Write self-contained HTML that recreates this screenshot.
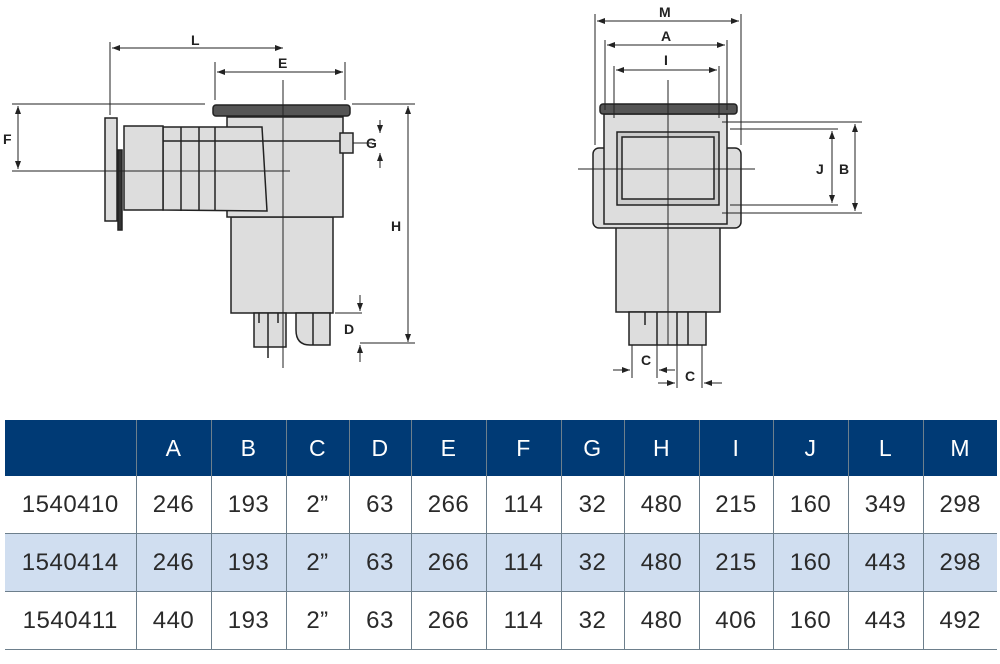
<!DOCTYPE html>
<html><head><meta charset="utf-8"><style>
body{margin:0;width:1000px;height:664px;background:#fff;overflow:hidden;position:relative;font-family:"Liberation Sans",sans-serif}
svg{position:absolute;left:0;top:0}
table{position:absolute;left:5px;top:420px;border-collapse:collapse;width:992px;table-layout:fixed}
td,th{border-left:1.5px solid #6d7f8c;text-align:center;font-size:24px;color:#2a2a2a;padding:0;letter-spacing:0.5px}
th{background:#003a75;color:#fff;height:56px;font-weight:normal;font-size:23px}
td{height:57px;border-bottom:1.5px solid #6d7f8c}
tr td:first-child,tr th:first-child{border-left:none}
tr.b td{background:#d0def0}
</style></head><body>
<svg width="1000" height="420" viewBox="0 0 1000 420" font-family="Liberation Sans" font-weight="bold" font-size="14" fill="none" stroke="#222">
<defs><marker id="a" markerWidth="8" markerHeight="6" refX="8" refY="3" orient="auto-start-reverse"><path d="M0,0L8,3L0,6z" fill="#222" stroke="none"/></marker></defs>
<!-- LEFT VIEW -->
<g stroke-width="1.5">
<rect x="231" y="217" width="102" height="96" fill="#ddd"/>
<rect x="227" y="117" width="116" height="100" fill="#ddd"/>
<path d="M163,127 L262,127 L267,211 L163,210Z" fill="#ddd"/>
<rect x="124" y="126" width="39" height="84" fill="#ddd"/>
<rect x="105" y="118" width="12" height="103" fill="#ddd"/>
<rect x="118" y="150" width="4" height="80" fill="#333"/>
<line x1="181" y1="127" x2="181" y2="211"/><line x1="199" y1="127" x2="199" y2="211"/><line x1="215" y1="127" x2="215" y2="211"/>
<line x1="163" y1="141" x2="340" y2="141"/>
<rect x="213" y="105" width="137" height="11" rx="3" fill="#555"/>
<rect x="340" y="133" width="13" height="20" fill="#ddd"/>
<rect x="254" y="313" width="32" height="34" fill="#ddd"/>
<path d="M296,313 L296,330 Q296,345 310,345 L330,345 L330,313Z" fill="#ddd"/>
<line x1="259" y1="313" x2="259" y2="323"/><line x1="268" y1="313" x2="268" y2="358"/><line x1="278" y1="313" x2="278" y2="323"/>
<line x1="313" y1="313" x2="313" y2="345"/>
</g>
<g stroke-width="1">
<line x1="283" y1="80" x2="283" y2="368"/>
<line x1="12" y1="104" x2="205" y2="104"/><line x1="352" y1="104" x2="415" y2="104"/>
<line x1="12" y1="171" x2="290" y2="171"/>
<line x1="110" y1="42" x2="110" y2="115"/><line x1="215" y1="62" x2="215" y2="100"/><line x1="345" y1="62" x2="345" y2="100"/>
<line x1="112" y1="48" x2="283" y2="48" marker-start="url(#a)" marker-end="url(#a)"/>
<line x1="217" y1="72" x2="343" y2="72" marker-start="url(#a)" marker-end="url(#a)"/>
<line x1="18" y1="106" x2="18" y2="169" marker-start="url(#a)" marker-end="url(#a)"/>
<line x1="408" y1="106" x2="408" y2="342" marker-start="url(#a)" marker-end="url(#a)"/>
<line x1="360" y1="343" x2="415" y2="343"/><line x1="335" y1="313" x2="362" y2="313"/>
<line x1="360" y1="295" x2="360" y2="311" marker-end="url(#a)"/><line x1="360" y1="362" x2="360" y2="345" marker-end="url(#a)"/>
<line x1="380" y1="120" x2="380" y2="133" marker-end="url(#a)"/><line x1="380" y1="168" x2="380" y2="153" marker-end="url(#a)"/>
<line x1="353" y1="143" x2="372" y2="143"/>
</g>
<g fill="#222" stroke="none">
<text x="191" y="45">L</text><text x="278" y="68">E</text><text x="3" y="144">F</text><text x="366" y="148">G</text><text x="391" y="231">H</text><text x="344" y="334">D</text>
</g>
<!-- RIGHT VIEW -->
<g stroke-width="1.5">
<rect x="616" y="226" width="104" height="86" fill="#ddd"/>
<rect x="593" y="148" width="148" height="80" rx="6" fill="#ddd"/>
<rect x="604" y="114" width="123" height="110" fill="#ddd"/>
<rect x="617" y="132" width="102" height="73" fill="#ccc"/>
<rect x="622" y="137" width="92" height="62" fill="#ddd"/>
<rect x="600" y="104" width="137" height="10" rx="3" fill="#555"/>
<rect x="629" y="312" width="77" height="33" fill="#ddd"/>
<line x1="645" y1="312" x2="645" y2="325"/><line x1="657" y1="312" x2="657" y2="345"/><line x1="677" y1="312" x2="677" y2="345"/><line x1="688" y1="312" x2="688" y2="345"/>
</g>
<g stroke-width="1">
<line x1="668" y1="80" x2="668" y2="345"/>
<line x1="578" y1="169" x2="755" y2="169"/>
<line x1="595" y1="14" x2="595" y2="145"/><line x1="741" y1="14" x2="741" y2="145"/>
<line x1="605" y1="40" x2="605" y2="110"/><line x1="727" y1="40" x2="727" y2="110"/>
<line x1="614" y1="66" x2="614" y2="118"/><line x1="719" y1="66" x2="719" y2="118"/>
<line x1="597" y1="21" x2="739" y2="21" marker-start="url(#a)" marker-end="url(#a)"/>
<line x1="607" y1="45" x2="725" y2="45" marker-start="url(#a)" marker-end="url(#a)"/>
<line x1="616" y1="70" x2="717" y2="70" marker-start="url(#a)" marker-end="url(#a)"/>
<line x1="722" y1="122" x2="862" y2="122"/><line x1="722" y1="213" x2="862" y2="213"/>
<line x1="730" y1="129" x2="838" y2="129"/><line x1="730" y1="205" x2="838" y2="205"/>
<line x1="855" y1="124" x2="855" y2="211" marker-start="url(#a)" marker-end="url(#a)"/>
<line x1="832" y1="131" x2="832" y2="203" marker-start="url(#a)" marker-end="url(#a)"/>
<line x1="632" y1="345" x2="632" y2="378"/><line x1="657" y1="345" x2="657" y2="378"/><line x1="677" y1="345" x2="677" y2="388"/><line x1="702" y1="345" x2="702" y2="388"/>
<line x1="613" y1="370" x2="630" y2="370" marker-end="url(#a)"/><line x1="675" y1="370" x2="659" y2="370" marker-end="url(#a)"/>
<line x1="658" y1="383" x2="675" y2="383" marker-end="url(#a)"/><line x1="722" y1="383" x2="704" y2="383" marker-end="url(#a)"/>
</g>
<g fill="#222" stroke="none">
<text x="659" y="17">M</text><text x="661" y="41">A</text><text x="664" y="65">I</text><text x="816" y="174">J</text><text x="839" y="174">B</text><text x="641" y="365">C</text><text x="685" y="381">C</text>
</g>
</svg>
<table>
<colgroup><col style="width:131px"><col style="width:75px"><col style="width:75px"><col style="width:63px"><col style="width:62px"><col style="width:75px"><col style="width:75px"><col style="width:63px"><col style="width:75px"><col style="width:74px"><col style="width:75px"><col style="width:75px"><col style="width:74px"></colgroup>
<tr><th></th><th>A</th><th>B</th><th>C</th><th>D</th><th>E</th><th>F</th><th>G</th><th>H</th><th>I</th><th>J</th><th>L</th><th>M</th></tr>
<tr><td>1540410</td><td>246</td><td>193</td><td>2”</td><td>63</td><td>266</td><td>114</td><td>32</td><td>480</td><td>215</td><td>160</td><td>349</td><td>298</td></tr>
<tr class="b"><td>1540414</td><td>246</td><td>193</td><td>2”</td><td>63</td><td>266</td><td>114</td><td>32</td><td>480</td><td>215</td><td>160</td><td>443</td><td>298</td></tr>
<tr><td>1540411</td><td>440</td><td>193</td><td>2”</td><td>63</td><td>266</td><td>114</td><td>32</td><td>480</td><td>406</td><td>160</td><td>443</td><td>492</td></tr>
</table>
</body></html>
